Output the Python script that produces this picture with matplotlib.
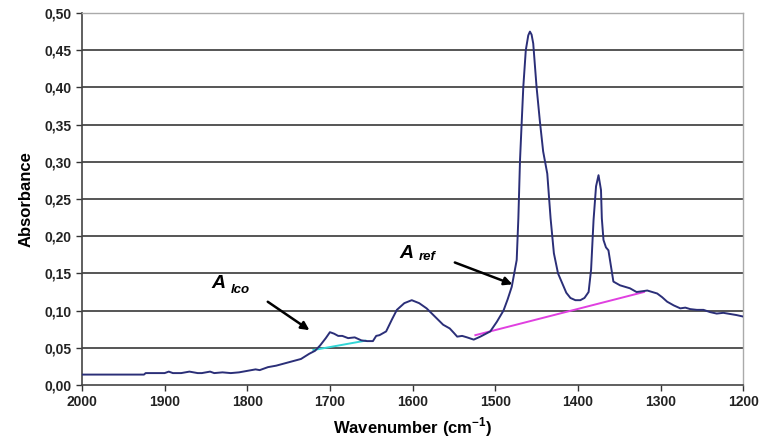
import matplotlib.pyplot as plt

# spectrum
wavenumber = [2000, 1925, 1923, 1900, 1895, 1890, 1880, 1870, 1860, 1855, 1845, 1840, 1830, 1820,
              1810, 1800, 1790, 1785, 1775, 1765, 1755, 1745, 1735, 1725, 1718, 1712, 1705, 1700,
              1695, 1690, 1685, 1678, 1670, 1662, 1655, 1648, 1644, 1640, 1632, 1625, 1619, 1610,
              1601, 1592, 1583, 1573, 1563, 1555, 1550, 1546, 1540, 1534, 1526, 1518, 1506, 1498,
              1490, 1485, 1480, 1474, 1472, 1470, 1468, 1466, 1463, 1460, 1458, 1456, 1454, 1450,
              1446, 1442, 1437, 1433, 1429, 1424, 1419, 1414, 1409, 1403, 1397, 1392, 1387, 1384,
              1381, 1378, 1375, 1372, 1371, 1369, 1366, 1363, 1360, 1357, 1349, 1337, 1329, 1322,
              1316, 1310, 1304, 1298, 1292, 1284, 1276, 1270, 1264, 1256, 1248, 1240, 1232, 1224,
              1216, 1208, 1200]
absorbance = [0.014, 0.014, 0.016, 0.016, 0.018, 0.016, 0.016, 0.018, 0.016, 0.016, 0.018, 0.016,
              0.017, 0.016, 0.017, 0.019, 0.021, 0.020, 0.024, 0.026, 0.029, 0.032, 0.035, 0.042,
              0.046, 0.053, 0.063, 0.071, 0.069, 0.066, 0.066, 0.063, 0.064, 0.060, 0.059, 0.059,
              0.066, 0.067, 0.072, 0.088, 0.101, 0.110, 0.114, 0.110, 0.103, 0.092, 0.081, 0.076,
              0.070, 0.065, 0.066, 0.064, 0.061, 0.065, 0.072, 0.085, 0.100, 0.115, 0.132, 0.168,
              0.224, 0.302, 0.352, 0.401, 0.450, 0.470, 0.475, 0.471, 0.459, 0.401, 0.355, 0.314,
              0.284, 0.224, 0.177, 0.150, 0.137, 0.124, 0.117, 0.114, 0.114, 0.117, 0.125, 0.155,
              0.222, 0.267, 0.282, 0.262, 0.224, 0.195, 0.185, 0.181, 0.160, 0.139, 0.134, 0.130,
              0.125, 0.126, 0.127, 0.125, 0.123, 0.118, 0.112, 0.107, 0.103, 0.104, 0.102, 0.101,
              0.101, 0.098, 0.096, 0.097, 0.0955, 0.094, 0.092]

# baselines
lco_base_x = [1720, 1657]
lco_base_y = [0.047, 0.0596]
ref_base_x = [1524, 1320]
ref_base_y = [0.067, 0.125]

yticks = [0, 0.05, 0.10, 0.15, 0.20, 0.25, 0.30, 0.35, 0.40, 0.45, 0.50]
ytick_labels = ['0,00', '0,05', '0,10', '0,15', '0,20', '0,25', '0,30', '0,35', '0,40', '0,45', '0,50']
xticks = [2000, 1900, 1800, 1700, 1600, 1500, 1400, 1300, 1200]

plt.rcParams['font.family'] = ['Liberation Sans', 'DejaVu Sans']
plt.rcParams['mathtext.fontset'] = 'custom'
plt.rcParams['mathtext.rm'] = 'Liberation Sans:bold'
plt.rcParams['mathtext.bf'] = 'Liberation Sans:bold'

fig = plt.figure(figsize=(7.67, 4.38), dpi=100)
ax = fig.add_axes([0.1069, 0.121, 0.862, 0.8493])

for t in yticks[1:]:
    ax.axhline(t, color='#555555', lw=1.4, zorder=1)

ax.plot(wavenumber, absorbance, color='#2b2f78', lw=1.4, zorder=3)
ax.plot(lco_base_x, lco_base_y, color='#33d6d6', lw=1.4, zorder=2)
ax.plot(ref_base_x, ref_base_y, color='#e040e0', lw=1.4, zorder=2)

ax.annotate('', xy=(1722, 0.0716), xytext=(1778, 0.114),
            arrowprops=dict(arrowstyle='-|>', color='black', lw=1.8, mutation_scale=12))
ax.annotate('', xy=(1476, 0.134), xytext=(1552, 0.166),
            arrowprops=dict(arrowstyle='-|>', color='black', lw=1.8, mutation_scale=12))
ax.text(1835, 0.137, 'A', fontsize=14, fontweight='bold', style='italic', ha='center', va='center')
ax.text(1820, 0.128, 'lco', fontsize=9.5, fontweight='bold', style='italic', ha='left', va='center')
ax.text(1607, 0.177, 'A', fontsize=14, fontweight='bold', style='italic', ha='center', va='center')
ax.text(1593, 0.172, 'ref', fontsize=9.5, fontweight='bold', style='italic', ha='left', va='center')

ax.set_xlim(2000, 1200)
ax.set_ylim(0, 0.5)
ax.set_xticks(xticks)
ax.set_xticklabels([str(x) for x in xticks], fontsize=10, fontweight='bold')
ax.set_yticks(yticks)
ax.set_yticklabels(ytick_labels, fontsize=10, fontweight='bold')
ax.tick_params(length=4, width=1, colors='#333333', labelcolor='#222222')

for s in ['left', 'bottom']:
    ax.spines[s].set_color('#444444')
    ax.spines[s].set_linewidth(1.2)
for s in ['top', 'right']:
    ax.spines[s].set_color('#aaaaaa')
    ax.spines[s].set_linewidth(1)

ax.set_xlabel('Wavenumber (cm$^{-1}$)', fontsize=12, fontweight='bold', labelpad=4)
ax.set_ylabel('Absorbance', fontsize=12, fontweight='bold', labelpad=8)

fig.savefig('out.png', dpi=100)
